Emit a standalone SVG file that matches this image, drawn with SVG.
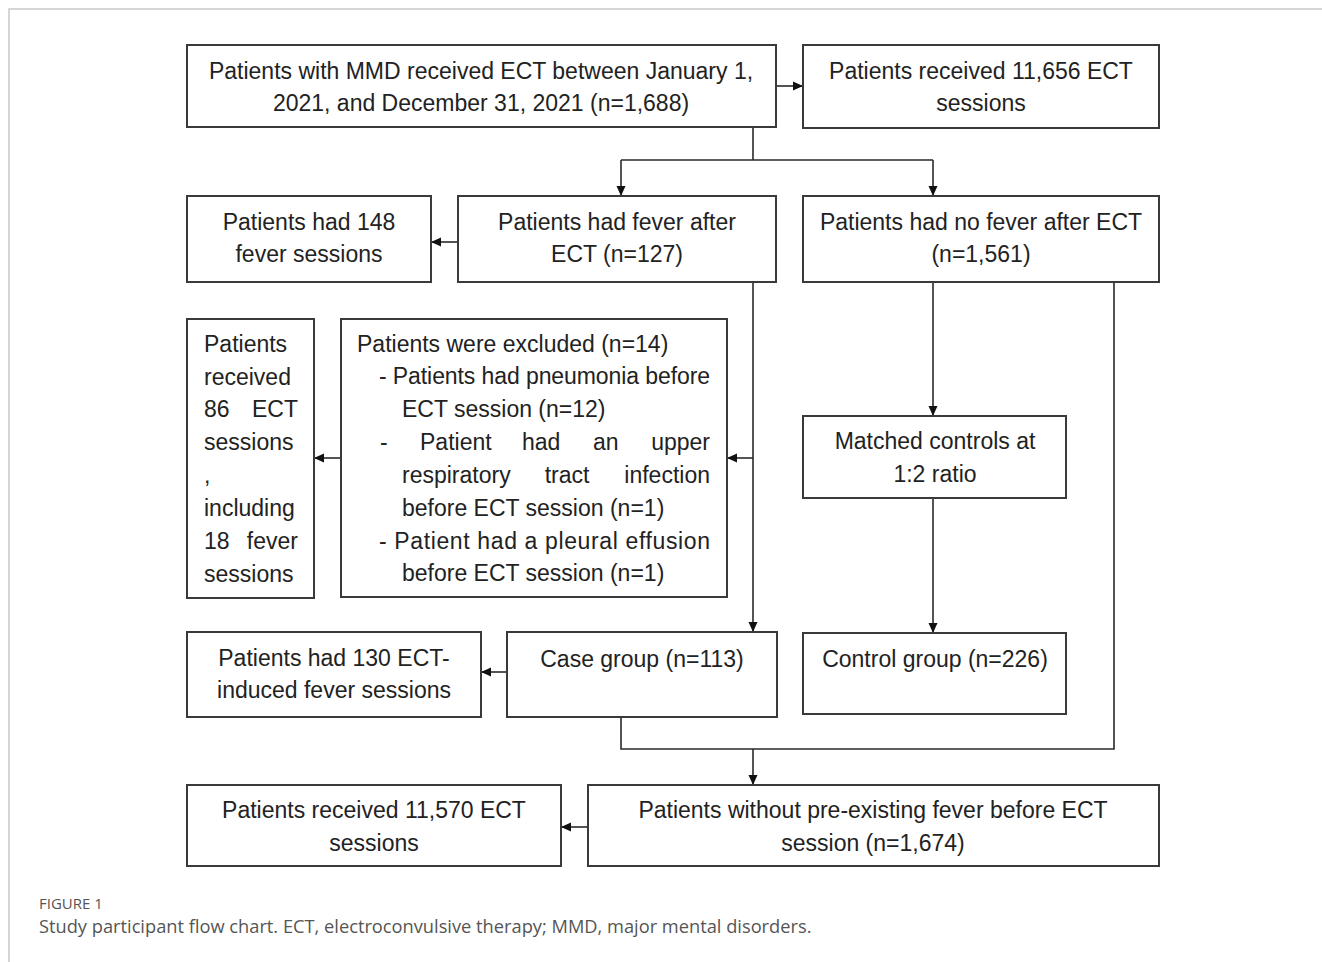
<svg xmlns="http://www.w3.org/2000/svg" width="1322" height="962" viewBox="0 0 1322 962">
<style>
.box{fill:#fff;stroke:#3a3a3a;stroke-width:2}
.t{font-family:"Liberation Sans",Arial,sans-serif;font-size:23px;fill:#222}
.c{text-anchor:middle}
.e{text-anchor:end}
.ln{fill:none;stroke:#2a2a2a;stroke-width:1.6}
.cap{font-family:"Open Sans","Liberation Sans",sans-serif;fill:#555}
</style>
<defs>
<marker id="ah" markerWidth="10" markerHeight="10" refX="9" refY="5" orient="auto" markerUnits="userSpaceOnUse">
<path d="M0,0.5 L10,5 L0,9.5 Z" fill="#111"/>
</marker>
</defs>
<rect width="1322" height="962" fill="#fff"/>
<path d="M9,962 V9 H1322" fill="none" stroke="#c8c8c8" stroke-width="1.5"/>

<g id="connectors">
<line class="ln" x1="776" y1="86" x2="802" y2="86" marker-end="url(#ah)"/>
<path class="ln" d="M753,127 V160 M621,160 H933"/>
<line class="ln" x1="621" y1="160" x2="621" y2="195" marker-end="url(#ah)"/>
<line class="ln" x1="933" y1="160" x2="933" y2="195" marker-end="url(#ah)"/>
<line class="ln" x1="458" y1="242" x2="432" y2="242" marker-end="url(#ah)"/>
<line class="ln" x1="753" y1="282" x2="753" y2="631" marker-end="url(#ah)"/>
<line class="ln" x1="753" y1="458" x2="728" y2="458" marker-end="url(#ah)"/>
<line class="ln" x1="341" y1="458" x2="315" y2="458" marker-end="url(#ah)"/>
<line class="ln" x1="933" y1="282" x2="933" y2="415" marker-end="url(#ah)"/>
<line class="ln" x1="933" y1="498" x2="933" y2="632" marker-end="url(#ah)"/>
<line class="ln" x1="507" y1="672" x2="482" y2="672" marker-end="url(#ah)"/>
<path class="ln" d="M1114,282 V749 H621 V717"/>
<line class="ln" x1="753" y1="749" x2="753" y2="784" marker-end="url(#ah)"/>
<line class="ln" x1="588" y1="827" x2="562" y2="827" marker-end="url(#ah)"/>
</g>

<g id="n1">
<rect class="box" x="187" y="45" width="589" height="82"/>
<text class="t c" x="481" y="79">Patients with MMD received ECT between January 1,</text>
<text class="t c" x="481" y="111">2021, and December 31, 2021 (n=1,688)</text>
</g>
<g id="n2">
<rect class="box" x="803" y="45" width="356" height="83"/>
<text class="t c" x="981" y="79">Patients received 11,656 ECT</text>
<text class="t c" x="981" y="111">sessions</text>
</g>
<g id="n3">
<rect class="box" x="187" y="196" width="244" height="86"/>
<text class="t c" x="309" y="230">Patients had 148</text>
<text class="t c" x="309" y="262">fever sessions</text>
</g>
<g id="n4">
<rect class="box" x="458" y="196" width="318" height="86"/>
<text class="t c" x="617" y="230">Patients had fever after</text>
<text class="t c" x="617" y="262">ECT (n=127)</text>
</g>
<g id="n5">
<rect class="box" x="803" y="196" width="356" height="86"/>
<text class="t c" x="981" y="230">Patients had no fever after ECT</text>
<text class="t c" x="981" y="262">(n=1,561)</text>
</g>
<g id="n6">
<rect class="box" x="187" y="319" width="127" height="279"/>
<text class="t" x="204" y="352">Patients</text>
<text class="t" x="204" y="385">received</text>
<text class="t" x="204" y="417">86</text>
<text class="t e" x="298" y="417">ECT</text>
<text class="t" x="204" y="450">sessions</text>
<text class="t" x="204" y="483">,</text>
<text class="t" x="204" y="516">including</text>
<text class="t" x="204" y="549">18</text>
<text class="t e" x="298" y="549">fever</text>
<text class="t" x="204" y="582">sessions</text>
</g>
<g id="n7">
<rect class="box" x="341" y="319" width="386" height="278"/>
<text class="t" x="357" y="352">Patients were excluded (n=14)</text>
<text class="t" x="379" y="384" textLength="331" lengthAdjust="spacing">- Patients had pneumonia before</text>
<text class="t" x="402" y="417">ECT session (n=12)</text>
<text class="t" x="380" y="450">-</text>
<text class="t" x="420" y="450">Patient</text>
<text class="t" x="522" y="450">had</text>
<text class="t" x="593" y="450">an</text>
<text class="t e" x="710" y="450">upper</text>
<text class="t" x="402" y="483">respiratory</text>
<text class="t c" x="567" y="483">tract</text>
<text class="t e" x="710" y="483">infection</text>
<text class="t" x="402" y="516">before ECT session (n=1)</text>
<text class="t" x="379" y="549" textLength="331" lengthAdjust="spacing">- Patient had a pleural effusion</text>
<text class="t" x="402" y="581">before ECT session (n=1)</text>
</g>
<g id="n8">
<rect class="box" x="803" y="416" width="263" height="82"/>
<text class="t c" x="935" y="449">Matched controls at</text>
<text class="t c" x="935" y="482">1:2 ratio</text>
</g>
<g id="n9">
<rect class="box" x="187" y="632" width="294" height="85"/>
<text class="t c" x="334" y="666">Patients had 130 ECT-</text>
<text class="t c" x="334" y="698">induced fever sessions</text>
</g>
<g id="n10">
<rect class="box" x="507" y="632" width="270" height="85"/>
<text class="t c" x="642" y="667">Case group (n=113)</text>
</g>
<g id="n11">
<rect class="box" x="803" y="633" width="263" height="81"/>
<text class="t c" x="935" y="667">Control group (n=226)</text>
</g>
<g id="n12">
<rect class="box" x="187" y="785" width="374" height="81"/>
<text class="t c" x="374" y="818">Patients received 11,570 ECT</text>
<text class="t c" x="374" y="851">sessions</text>
</g>
<g id="n13">
<rect class="box" x="588" y="785" width="571" height="81"/>
<text class="t c" x="873" y="818">Patients without pre-existing fever before ECT</text>
<text class="t c" x="873" y="851">session (n=1,674)</text>
</g>

<g id="caption">
<text class="cap" x="39" y="909" font-size="15">FIGURE 1</text>
<text class="cap" x="39" y="933" font-size="18.25">Study participant flow chart. ECT, electroconvulsive therapy; MMD, major mental disorders.</text>
</g>
</svg>
